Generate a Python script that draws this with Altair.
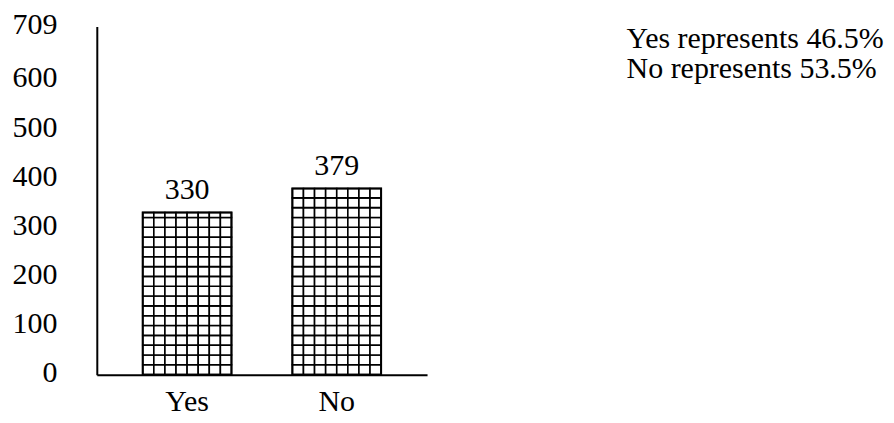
import altair as alt
import pandas as pd

# ---- data ----
categories = ["Yes", "No"]
counts = [330, 379]
y_ticks = [0, 100, 200, 300, 400, 500, 600, 709]
y_max = 709

# hatch (grid fill) style parameters
row_units = 20
n_cols = 8

FONT = "Liberation Serif, Times New Roman, serif"

total = sum(counts)
bars = pd.DataFrame({"answer": categories, "count": counts})

# grid cells that make the cross-hatch fill of each bar
cell_rows = []
for cat, val in zip(categories, counts):
    r = 0
    while r * row_units < val:
        for c in range(n_cols):
            cell_rows.append({"answer": cat, "col": c,
                              "y0": r * row_units,
                              "y1": min((r + 1) * row_units, val)})
        r += 1
cells = pd.DataFrame(cell_rows)

note_text = "\n".join(
    f"{cat} represents {100 * v / total:.1f}%" for cat, v in zip(categories, counts)
)
notes = pd.DataFrame({"note": [note_text]})

x_enc = alt.X(
    "answer:N", sort=categories,
    scale=alt.Scale(paddingInner=0.407, paddingOuter=0.307),
    axis=alt.Axis(title=None, labelAngle=0, ticks=False, tickSize=0,
                  labelPadding=36, labelBaseline="alphabetic",
                  labelFont=FONT, labelFontSize=30, labelColor="black",
                  domainColor="black", domainWidth=2, grid=False),
)
y_scale = alt.Scale(domain=[0, y_max], nice=False, zero=True)
y_axis = alt.Axis(title=None, values=y_ticks, ticks=False, tickSize=0,
                  labelPadding=40, labelOffset=-2,
                  labelFont=FONT, labelFontSize=30, labelColor="black",
                  domainColor="black", domainWidth=2, grid=False)

grid_layer = alt.Chart(cells).mark_bar(
    fill="white", stroke="black", strokeWidth=1.6
).encode(
    x=x_enc,
    xOffset=alt.XOffset("col:O", scale=alt.Scale(paddingInner=0, paddingOuter=0)),
    y=alt.Y("y0:Q", scale=y_scale, axis=y_axis),
    y2="y1:Q",
)

outline_layer = alt.Chart(bars).mark_bar(
    fill=None, fillOpacity=0, stroke="black", strokeWidth=2
).encode(
    x=x_enc,
    y=alt.Y("count:Q", scale=y_scale, axis=y_axis),
)

value_layer = alt.Chart(bars).mark_text(
    dy=-14, baseline="alphabetic", font=FONT, fontSize=30, color="black"
).encode(
    x=x_enc,
    y=alt.Y("count:Q", scale=y_scale, axis=y_axis),
    text="count:Q",
)

note_layer = alt.Chart(notes).mark_text(
    align="left", baseline="alphabetic", font=FONT, fontSize=30,
    color="black", lineBreak="\n", lineHeight=30
).encode(
    x=alt.value(531),
    y=alt.value(22),
    text="note:N",
)

chart = alt.layer(grid_layer, outline_layer, value_layer, note_layer).properties(
    width=331, height=349,
    padding={"left": 89, "top": 18, "right": 460, "bottom": 45},
    autosize=alt.AutoSizeParams(type="none"),
).configure_view(stroke=None)

chart.save("out.html", embed_options={"renderer": "svg", "actions": False})
